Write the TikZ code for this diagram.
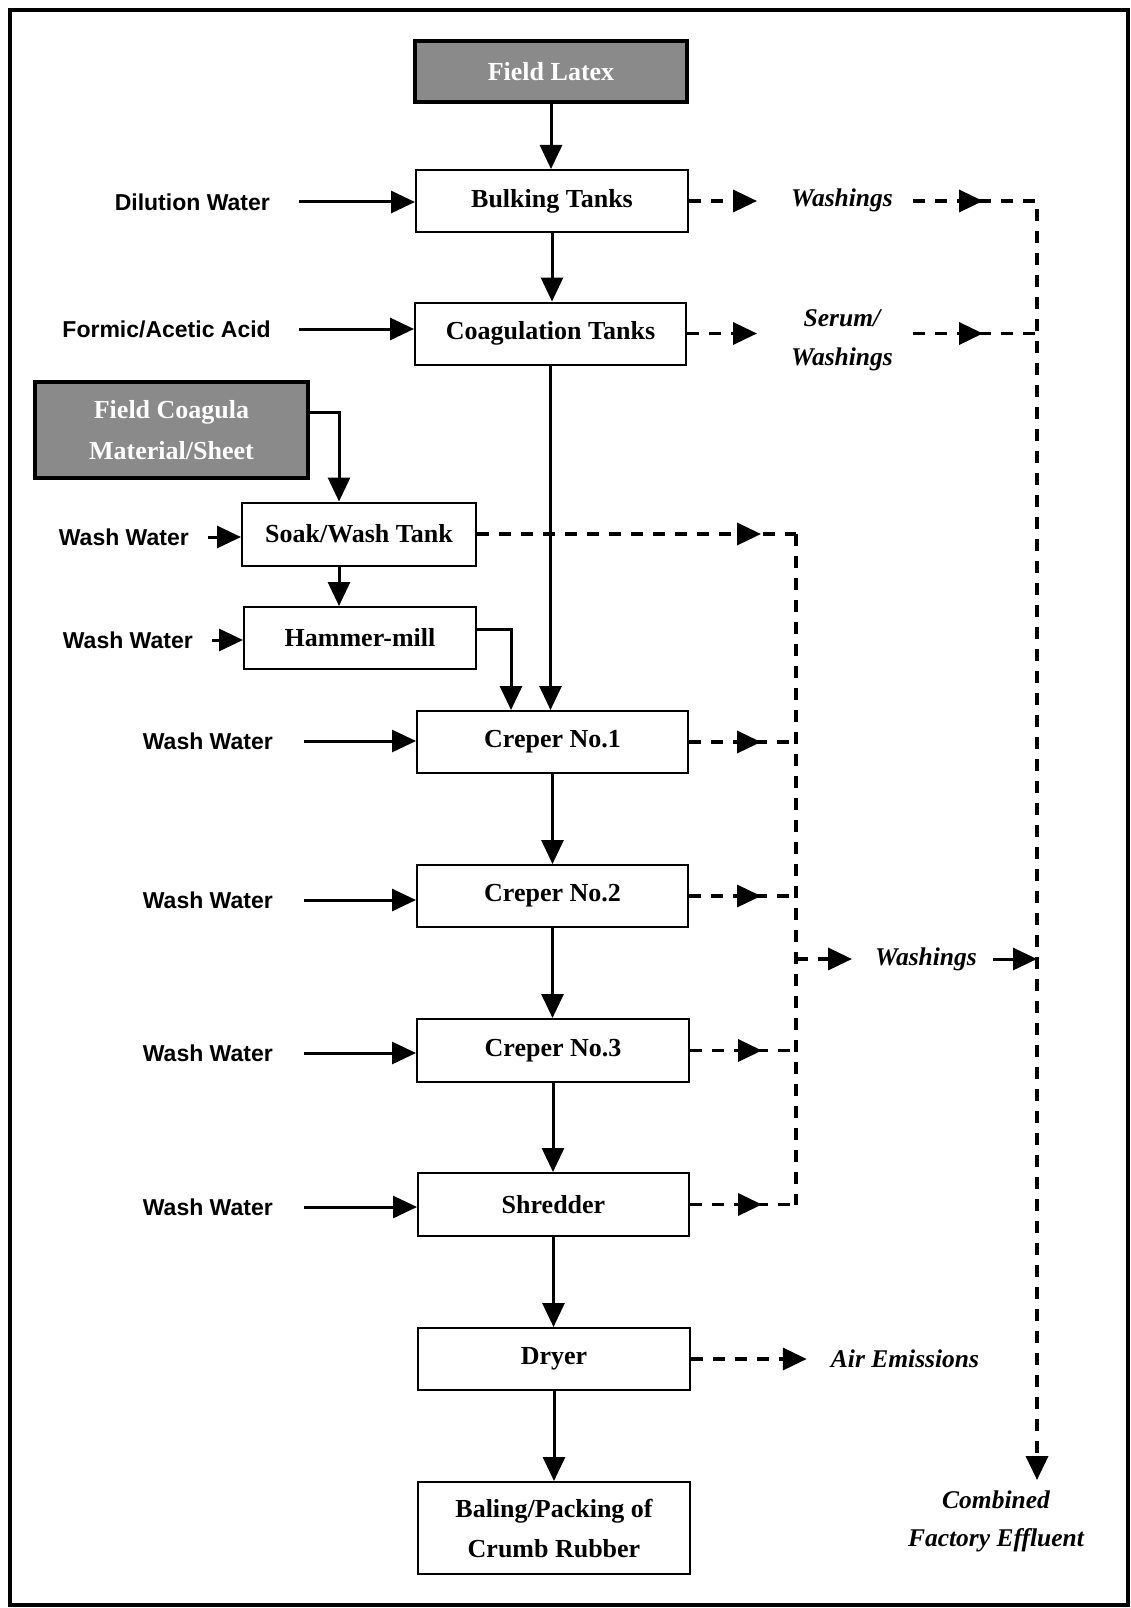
\documentclass[tikz,border=0pt]{standalone}
\usepackage{fontspec}
\setmainfont{Liberation Serif}
\setsansfont{Liberation Sans}
\usetikzlibrary{arrows.meta,decorations.markings,calc}
\definecolor{srcgray}{RGB}{138,138,138}

\begin{document}
\begin{tikzpicture}[x=1pt,y=-1pt,
  box/.style={draw, line width=2pt, minimum width=272pt, minimum height=62pt,
    inner sep=0pt, align=center, font=\fontsize{26}{40}\selectfont\bfseries},
  srcbox/.style={draw, line width=4.5pt, fill=srcgray, text=white,
    inner sep=0pt, align=center, font=\fontsize{26}{41}\selectfont\bfseries},
  inlab/.style={anchor=east, inner sep=0pt,
    font=\sffamily\bfseries\fontsize{23}{26}\selectfont},
  outlab/.style={inner sep=0pt, align=center,
    font=\fontsize{25.5}{39}\selectfont\bfseries\itshape},
  flow/.style={line width=3pt, -{Triangle[length=24pt,width=22pt]}},
  waste/.style={line width=3.6pt, dash pattern=on 12pt off 10pt},
  wastetip/.style={-{Triangle[length=24pt,width=22pt]}},
  midarrow/.style={postaction={decorate}, decoration={markings,
    mark=at position #1 with {\arrow{Triangle[length=24pt,width=22pt]}}}}
]
\useasboundingbox (0,0) rectangle (1131,1608);
\fill[white] (0,0) rectangle (1131,1608);

% page frame
\draw[line width=4pt] (10,10) rectangle (1128,1605);

% raw material sources
\node[srcbox, minimum width=272pt, minimum height=61pt] (latex) at (551,71.5) {Field Latex};
\node[srcbox, minimum width=273pt, minimum height=96pt] (fcoag) at (171.5,430) {Field Coagula\\Material/Sheet};

% process units
\node[box] (bulk) at (552,201) {Bulking Tanks};
\node[box, minimum width=271pt] (coag) at (550.5,333.5) {Coagulation Tanks};
\node[box, minimum width=234pt, minimum height=63pt] (soak) at (359,534) {Soak/Wash Tank};
\node[box, minimum width=232pt] (hammer) at (360,638) {Hammer-mill};
\node[box, minimum width=271pt] (cr1) at (552.5,742) {Creper No.1};
\node[box, minimum width=271pt] (cr2) at (552.5,896) {Creper No.2};
\node[box, minimum height=63pt] (cr3) at (553,1050.5) {Creper No.3};
\node[box, minimum width=271pt, minimum height=63pt] (shred) at (553.5,1204.5) {Shredder};
\node[box] (dryer) at (554,1359) {Dryer};
\node[box, minimum height=92pt] (bale) at (554,1528) {Baling/Packing of\\Crumb Rubber};

% water and chemical inputs
\node[inlab] (inDil) at (270,202) {Dilution Water};
\node[inlab] (inAcid) at (271,329) {Formic/Acetic Acid};
\node[inlab] (inSoak) at (189,537) {Wash Water};
\node[inlab] (inHam) at (193,640) {Wash Water};
\node[inlab] (inC1) at (273,741) {Wash Water};
\node[inlab] (inC2) at (273,900) {Wash Water};
\node[inlab] (inC3) at (273,1053) {Wash Water};
\node[inlab] (inShr) at (273,1207) {Wash Water};

% outputs
\node[outlab] (wl1) at (842,200) {Washings};
\node[outlab] (wl2) at (842,340) {Serum/\\Washings};
\node[outlab] (wl3) at (926,959) {Washings};
\node[outlab] (air) at (905,1359) {Air Emissions};
\node[outlab, font=\fontsize{25.5}{38}\selectfont\bfseries\itshape] (eff) at (996,1521) {Combined\\Factory Effluent};

% collector lines
\coordinate (cx) at (796,0);
\coordinate (r1) at (1037,201);
\coordinate (r2) at (r1 |- coag.east);
\coordinate (effin) at (1037,1480);

% main latex line
\draw[flow] (latex.south) -- (latex.south |- bulk.north);
\draw[flow] (bulk.south) -- (bulk.south |- coag.north);
\draw[flow] (coag.south) -- (coag.south |- cr1.north);
\draw[flow] (cr1.south) -- (cr1.south |- cr2.north);
\draw[flow] (cr2.south) -- (cr2.south |- cr3.north);
\draw[flow] (cr3.south) -- (cr3.south |- shred.north);
\draw[flow] (shred.south) -- (shred.south |- dryer.north);
\draw[flow] (dryer.south) -- (dryer.south |- bale.north);

% field coagula line
\draw[flow] ([yshift=18pt]fcoag.east) -| ([xshift=-20pt]soak.north);
\draw[flow] ([xshift=-20pt]soak.south) -- ([xshift=-20pt]soak.south |- hammer.north);
\draw[flow] ([yshift=9pt]hammer.east) -| ([xshift=-41.5pt]cr1.north);

% inputs
\draw[flow] ([xshift=29pt]inDil.east) -- (inDil.east -| bulk.west);
\draw[flow] ([xshift=28pt]inAcid.east) -- (inAcid.east -| coag.west);
\draw[flow] ([xshift=19pt]inSoak.east) -- (inSoak.east -| soak.west);
\draw[flow] ([xshift=19pt]inHam.east) -- (inHam.east -| hammer.west);
\draw[flow] ([xshift=31pt]inC1.east) -- (inC1.east -| cr1.west);
\draw[flow] ([xshift=31pt]inC2.east) -- (inC2.east -| cr2.west);
\draw[flow] ([xshift=31pt]inC3.east) -- (inC3.east -| cr3.west);
\draw[flow] ([xshift=31pt]inShr.east) -- (inShr.east -| shred.west);

% tank washings
\draw[waste, wastetip] (bulk.east) -- ([xshift=-34pt]wl1.west |- bulk.east);
\draw[waste, wastetip] (coag.east) -- ([xshift=-34pt]wl2.west |- coag.east);
\draw[waste, midarrow=70pt, wastetip] ([xshift=20pt]wl1.east |- r1) -- (r1) -- (effin);
\draw[waste, midarrow=70pt] ([xshift=20pt]wl2.east |- r2) -- (r2);

% creper line washings
\draw[waste, midarrow=284pt] (soak.east) -- (soak.east -| cx);
\draw[waste, midarrow=72pt] (cr1.east) -- (cr1.east -| cx);
\draw[waste, midarrow=72pt] (cr2.east) -- (cr2.east -| cx);
\draw[waste, midarrow=72pt] (cr3.east) -- (cr3.east -| cx);
\draw[waste, midarrow=72pt] (shred.east) -- (shred.east -| cx);
\draw[waste] (soak.east -| cx) -- (shred.east -| cx);
\draw[waste, wastetip] (wl3.west -| cx) -- ([xshift=-23pt]wl3.west);
\draw[flow] ([xshift=16pt]wl3.east) -- (wl3.east -| r1);

% dryer exhaust
\draw[waste, wastetip] (dryer.east) -- ([xshift=-24pt]air.west);
\end{tikzpicture}
\end{document}
